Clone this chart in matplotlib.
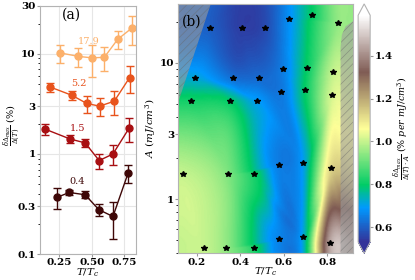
import numpy as np
import matplotlib
matplotlib.use("Agg")
import matplotlib.pyplot as plt
import matplotlib.tri as mtri
from matplotlib.patches import Polygon
from matplotlib.ticker import NullFormatter

plt.rcParams['font.family'] = 'DejaVu Serif'
plt.rcParams['mathtext.fontset'] = 'dejavuserif'
plt.rcParams['hatch.linewidth'] = 0.5

# ---- panel (a): gap change vs T for each fluence
fluence = ['17.9', '5.2', '1.5', '0.4']
colors = ['#fcb06a', '#e8531c', '#a80f12', '#3e0707']
t_a = [[0.255, 0.397, 0.500, 0.595, 0.698, 0.809],
       [0.178, 0.346, 0.461, 0.559, 0.672, 0.790],
       [0.140, 0.333, 0.448, 0.556, 0.662, 0.785],
       [0.235, 0.327, 0.448, 0.554, 0.662, 0.778]]
dd = [[10.2, 9.4, 9.1, 9.2, 13.9, 18.1],
      [4.66, 3.85, 3.19, 3.0, 3.36, 5.78],
      [1.77, 1.41, 1.29, 0.86, 1.0, 1.80],
      [0.371, 0.413, 0.392, 0.278, 0.238, 0.643]]
dd_err = [[2.1, 2.0, 3.2, 2.4, 2.8, 5.8],
          [0.5, 0.4, 0.6, 0.6, 0.9, 1.7],
          [0.24, 0.13, 0.12, 0.15, 0.23, 0.47],
          [0.087, 0.025, 0.032, 0.037, 0.097, 0.135]]
label_pos = [(0.479, 13.2), (0.402, 5.1), (0.392, 1.8), (0.387, 0.53)]

# ---- panel (b): measured points and normalised ratio
t_b = [[0.234, 0.335, 0.464, 0.576, 0.688, 0.815],
       [0.136, 0.341, 0.465, 0.577, 0.690, 0.817],
       [0.172, 0.354, 0.476, 0.589, 0.699, 0.823],
       [0.192, 0.367, 0.485, 0.597, 0.706, 0.828],
       [0.261, 0.407, 0.515, 0.626, 0.731, 0.851]]
a_b = [[0.44, 0.44, 0.44, 0.51, 0.53, 0.48],
       [1.53, 1.53, 1.53, 1.79, 1.84, 1.69],
       [5.2, 5.2, 5.2, 6.1, 6.3, 5.8],
       [7.7, 7.7, 7.7, 9.0, 9.2, 8.5],
       [17.9, 17.9, 17.9, 21.0, 22.4, 19.4]]
ratio = [[1.00, 0.95, 0.83, 0.66, 0.71, 1.45],
         [1.00, 0.93, 0.82, 0.65, 0.70, 1.12],
         [0.82, 0.80, 0.70, 0.64, 0.80, 1.02],
         [0.72, 0.63, 0.62, 0.65, 0.80, 1.00],
         [0.60, 0.55, 0.57, 0.68, 0.80, 0.95]]
cb_ticks = [0.6, 0.8, 1.0, 1.2, 1.4]

fig = plt.figure(figsize=(4.15, 2.8), dpi=100)
ax1 = fig.add_axes([0.096, 0.092, 0.232, 0.887])
ax2 = fig.add_axes([0.430, 0.095, 0.421, 0.891])
cax = fig.add_axes([0.863, 0.095, 0.029, 0.891])

tick_kw = dict(labelsize=7.5, colors='0.6', labelcolor='k', length=2, pad=1)

for lab, c, t, y, e, p in zip(fluence, colors, t_a, dd, dd_err, label_pos):
    ax1.errorbar(t, y, yerr=e, color=c, ecolor=c, elinewidth=1, capsize=3,
                 marker='o', ms=5, lw=1)
    ax1.text(p[0], p[1], lab, color=c, fontsize=7, ha='center', va='center')
ax1.set_yscale('log')
ax1.set_ylim(0.1, 30)
ax1.set_xlim(0.10, 0.84)
ax1.set_yticks([0.1, 0.3, 1, 3, 10, 30])
ax1.set_yticklabels(['0.1', '0.3', '1', '3', '10', '30'])
ax1.yaxis.set_minor_formatter(NullFormatter())
ax1.set_xticks([0.25, 0.5, 0.75])
ax1.grid(True, color='0.9', lw=0.8)
ax1.set_axisbelow(True)
for s in ax1.spines.values():
    s.set_color('0.7')
ax1.tick_params(**tick_kw)
ax1.tick_params(which='minor', length=1.5)
for lb in ax1.get_xticklabels() + ax1.get_yticklabels():
    lb.set_fontweight('bold')
ax1.set_xlabel('$T/T_c$', fontsize=7.5, labelpad=-0.5)
ax1.set_ylabel(r'$\frac{\delta\Delta_{max}}{\Delta(T)}$ (%)', fontsize=7)
ax1.yaxis.set_label_coords(-0.17, 0.52)
ax1.text(0.23, 0.964, '(a)', transform=ax1.transAxes, fontsize=10, va='center')

# interpolated colour field (boundary nodes copy nearest measured value)
tt = np.array(t_b)
la = np.log10(np.array(a_b))
zz = np.array(ratio)
x0, x1 = 0.115, 0.92
y0, y1 = np.log10(0.4), np.log10(27)
px = np.concatenate([tt.ravel(), tt[0], tt[-1], np.full(5, x0), np.full(5, x1), [x0, x1, x0, x1]])
py = np.concatenate([la.ravel(), np.full(6, y0), np.full(6, y1), la[:, 0], la[:, -1], [y0, y0, y1, y1]])
pz = np.concatenate([zz.ravel(), zz[0], zz[-1], zz[:, 0], zz[:, -1], [zz[0, 0], zz[0, -1], zz[-1, 0], zz[-1, -1]]])
tri = mtri.Triangulation(px, py)
interp = mtri.CubicTriInterpolator(tri, pz, kind='geom')
gx = np.linspace(x0, x1, 300)
gy = np.linspace(y0, y1, 300)
GX, GY = np.meshgrid(gx, gy)
GZ = interp(GX, GY)
pm = ax2.pcolormesh(gx, 10 ** gy, GZ, cmap='terrain', vmin=0.53, vmax=1.59, shading='gouraud')
ax2.plot(tt.ravel(), np.array(a_b).ravel(), '*', color='k', ms=4)

hatch_kw = dict(facecolor=(0.62, 0.62, 0.62, 0.6), edgecolor=(0.4, 0.4, 0.4, 0.5), lw=0, hatch='////')
ax2.add_patch(Polygon([(x0, 27), (0.264, 27), (x0, 5.2)], **hatch_kw))
ax2.add_patch(Polygon([(0.862, 0.4), (0.862, 13), (0.868, 16), (0.885, 18.5), (0.92, 20.2), (0.92, 0.4)], **hatch_kw))

ax2.set_yscale('log')
ax2.set_xlim(x0, x1)
ax2.set_ylim(0.4, 27)
ax2.set_yticks([1, 3, 10])
ax2.set_yticklabels(['1', '3', '10'])
ax2.yaxis.set_minor_formatter(NullFormatter())
ax2.set_xticks([0.2, 0.4, 0.6, 0.8])
for s in ax2.spines.values():
    s.set_color('0.7')
ax2.tick_params(**tick_kw)
ax2.tick_params(which='minor', length=1.5)
for lb in ax2.get_xticklabels() + ax2.get_yticklabels():
    lb.set_fontweight('bold')
ax2.set_xlabel('$T/T_c$', fontsize=7.5, labelpad=-0.5)
ax2.set_ylabel('$A\\ (mJ/cm^3)$', fontsize=7.5, labelpad=1)
ax2.text(0.02, 0.929, '(b)', transform=ax2.transAxes, fontsize=10, va='center')

cb = fig.colorbar(pm, cax=cax, extend='both', ticks=cb_ticks)
cb.outline.set_edgecolor('0.7')
cb.ax.tick_params(**tick_kw)
cb.ax.set_yticklabels(['0.6', '0.8', '1.0', '1.2', '1.4'], fontweight='bold')
cb.set_label(r'$\frac{\delta\Delta_{max}}{\Delta(T)\cdot A}$ $(\%\ per\ mJ/cm^3)$', fontsize=6.8, labelpad=0)

fig.savefig('out.png', dpi=100)
